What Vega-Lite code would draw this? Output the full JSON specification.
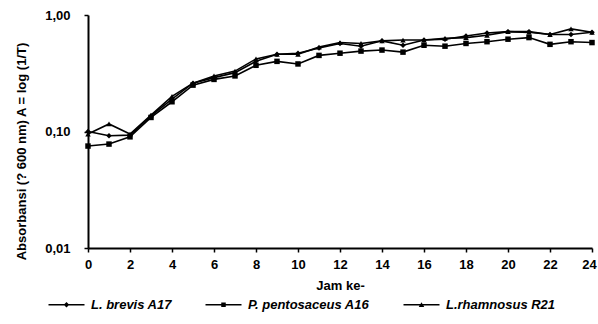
{
  "$schema": "https://vega.github.io/schema/vega-lite/v6.json",
  "width": 504,
  "height": 233,
  "autosize": "none",
  "padding": {"left": 88, "top": 15, "right": 6, "bottom": 76},
  "background": "white",
  "config": {
    "view": {"stroke": null},
    "font": "Liberation Sans",
    "axis": {"grid": false, "domainColor": "black", "domainWidth": 2, "tickColor": "black", "tickWidth": 1.5, "tickSize": 4, "labelFont": "Liberation Sans", "labelFontWeight": "bold", "labelFontSize": 13, "labelColor": "black", "titleFont": "Liberation Sans", "titleFontWeight": "bold", "titleFontSize": 13, "titleColor": "black"}
  },
  "data": {"values": [
    {"hour": 0, "series": "L. brevis A17", "value": 0.100},
    {"hour": 1, "series": "L. brevis A17", "value": 0.092},
    {"hour": 2, "series": "L. brevis A17", "value": 0.093},
    {"hour": 3, "series": "L. brevis A17", "value": 0.136},
    {"hour": 4, "series": "L. brevis A17", "value": 0.19},
    {"hour": 5, "series": "L. brevis A17", "value": 0.26},
    {"hour": 6, "series": "L. brevis A17", "value": 0.29},
    {"hour": 7, "series": "L. brevis A17", "value": 0.32},
    {"hour": 8, "series": "L. brevis A17", "value": 0.40},
    {"hour": 9, "series": "L. brevis A17", "value": 0.46},
    {"hour": 10, "series": "L. brevis A17", "value": 0.47},
    {"hour": 11, "series": "L. brevis A17", "value": 0.52},
    {"hour": 12, "series": "L. brevis A17", "value": 0.57},
    {"hour": 13, "series": "L. brevis A17", "value": 0.54},
    {"hour": 14, "series": "L. brevis A17", "value": 0.60},
    {"hour": 15, "series": "L. brevis A17", "value": 0.55},
    {"hour": 16, "series": "L. brevis A17", "value": 0.61},
    {"hour": 17, "series": "L. brevis A17", "value": 0.62},
    {"hour": 18, "series": "L. brevis A17", "value": 0.66},
    {"hour": 19, "series": "L. brevis A17", "value": 0.70},
    {"hour": 20, "series": "L. brevis A17", "value": 0.72},
    {"hour": 21, "series": "L. brevis A17", "value": 0.72},
    {"hour": 22, "series": "L. brevis A17", "value": 0.68},
    {"hour": 23, "series": "L. brevis A17", "value": 0.68},
    {"hour": 24, "series": "L. brevis A17", "value": 0.71},
    {"hour": 0, "series": "P. pentosaceus A16", "value": 0.075},
    {"hour": 1, "series": "P. pentosaceus A16", "value": 0.078},
    {"hour": 2, "series": "P. pentosaceus A16", "value": 0.090},
    {"hour": 3, "series": "P. pentosaceus A16", "value": 0.132},
    {"hour": 4, "series": "P. pentosaceus A16", "value": 0.18},
    {"hour": 5, "series": "P. pentosaceus A16", "value": 0.25},
    {"hour": 6, "series": "P. pentosaceus A16", "value": 0.28},
    {"hour": 7, "series": "P. pentosaceus A16", "value": 0.30},
    {"hour": 8, "series": "P. pentosaceus A16", "value": 0.37},
    {"hour": 9, "series": "P. pentosaceus A16", "value": 0.40},
    {"hour": 10, "series": "P. pentosaceus A16", "value": 0.38},
    {"hour": 11, "series": "P. pentosaceus A16", "value": 0.45},
    {"hour": 12, "series": "P. pentosaceus A16", "value": 0.47},
    {"hour": 13, "series": "P. pentosaceus A16", "value": 0.49},
    {"hour": 14, "series": "P. pentosaceus A16", "value": 0.50},
    {"hour": 15, "series": "P. pentosaceus A16", "value": 0.48},
    {"hour": 16, "series": "P. pentosaceus A16", "value": 0.55},
    {"hour": 17, "series": "P. pentosaceus A16", "value": 0.54},
    {"hour": 18, "series": "P. pentosaceus A16", "value": 0.57},
    {"hour": 19, "series": "P. pentosaceus A16", "value": 0.59},
    {"hour": 20, "series": "P. pentosaceus A16", "value": 0.62},
    {"hour": 21, "series": "P. pentosaceus A16", "value": 0.64},
    {"hour": 22, "series": "P. pentosaceus A16", "value": 0.56},
    {"hour": 23, "series": "P. pentosaceus A16", "value": 0.59},
    {"hour": 24, "series": "P. pentosaceus A16", "value": 0.58},
    {"hour": 0, "series": "L.rhamnosus R21", "value": 0.095},
    {"hour": 1, "series": "L.rhamnosus R21", "value": 0.116},
    {"hour": 2, "series": "L.rhamnosus R21", "value": 0.095},
    {"hour": 3, "series": "L.rhamnosus R21", "value": 0.138},
    {"hour": 4, "series": "L.rhamnosus R21", "value": 0.20},
    {"hour": 5, "series": "L.rhamnosus R21", "value": 0.26},
    {"hour": 6, "series": "L.rhamnosus R21", "value": 0.30},
    {"hour": 7, "series": "L.rhamnosus R21", "value": 0.33},
    {"hour": 8, "series": "L.rhamnosus R21", "value": 0.42},
    {"hour": 9, "series": "L.rhamnosus R21", "value": 0.46},
    {"hour": 10, "series": "L.rhamnosus R21", "value": 0.46},
    {"hour": 11, "series": "L.rhamnosus R21", "value": 0.53},
    {"hour": 12, "series": "L.rhamnosus R21", "value": 0.58},
    {"hour": 13, "series": "L.rhamnosus R21", "value": 0.57},
    {"hour": 14, "series": "L.rhamnosus R21", "value": 0.60},
    {"hour": 15, "series": "L.rhamnosus R21", "value": 0.61},
    {"hour": 16, "series": "L.rhamnosus R21", "value": 0.61},
    {"hour": 17, "series": "L.rhamnosus R21", "value": 0.63},
    {"hour": 18, "series": "L.rhamnosus R21", "value": 0.64},
    {"hour": 19, "series": "L.rhamnosus R21", "value": 0.67},
    {"hour": 20, "series": "L.rhamnosus R21", "value": 0.72},
    {"hour": 21, "series": "L.rhamnosus R21", "value": 0.71},
    {"hour": 22, "series": "L.rhamnosus R21", "value": 0.68},
    {"hour": 23, "series": "L.rhamnosus R21", "value": 0.76},
    {"hour": 24, "series": "L.rhamnosus R21", "value": 0.71}
  ]},
  "encoding": {
    "x": {"field": "hour", "type": "quantitative", "title": "Jam ke-",
      "scale": {"domain": [0, 24], "nice": false},
      "axis": {"values": [0,2,4,6,8,10,12,14,16,18,20,22,24], "labelPadding": 6, "titlePadding": 8, "labelFlush": false,
        "labelOffset": {"condition": {"test": "datum.value == 24", "value": -3}, "value": 0}}},
    "y": {"field": "value", "type": "quantitative", "title": "Absorbansi (? 600 nm) A = log (1/T)",
      "scale": {"type": "log", "domain": [0.01, 1], "nice": false},
      "axis": {"values": [0.01, 0.1, 1], "labelExpr": "replace(format(datum.value, '.2f'), '.', ',')", "labelPadding": 14, "titlePadding": 16, "titleY": 136}}
  },
  "layer": [
    {"mark": {"type": "line", "color": "black", "strokeWidth": 1.6},
     "encoding": {"detail": {"field": "series", "type": "nominal"}}},
    {"mark": {"type": "point", "filled": true, "color": "black", "opacity": 1, "size": 30},
     "encoding": {"shape": {"field": "series", "type": "nominal",
        "scale": {"domain": ["L. brevis A17", "P. pentosaceus A16", "L.rhamnosus R21"], "range": ["diamond", "square", "triangle-up"]},
        "legend": null}}},
    {"mark": {"type": "point", "filled": true, "color": "black", "opacity": 0},
     "encoding": {"shape": {"field": "series", "type": "nominal",
        "scale": {"domain": ["L. brevis A17", "P. pentosaceus A16", "L.rhamnosus R21"],
          "range": ["M-3.6,-0.15H3.6V0.15H-3.6ZM-0.55,0L0,-0.55L0.55,0L0,0.55Z", "M-3.6,-0.15H3.6V0.15H-3.6ZM-0.45,-0.45H0.45V0.45H-0.45Z", "M-3.6,-0.15H3.6V0.15H-3.6ZM-0.55,0.45L0,-0.5L0.55,0.45Z"]},
        "legend": {"title": null, "orient": "none", "direction": "horizontal", "legendX": -28, "legendY": 283,
          "symbolSize": 100, "symbolOpacity": 1, "symbolFillColor": "black", "symbolStrokeColor": "black", "symbolStrokeWidth": 0,
          "labelFont": "Liberation Sans", "labelFontWeight": "bold", "labelFontStyle": "italic", "labelFontSize": 13, "labelColor": "black",
          "labelOffset": 18, "columnPadding": 33}}}}
  ],
  "resolve": {"scale": {"shape": "independent"}, "legend": {"shape": "independent"}}
}
